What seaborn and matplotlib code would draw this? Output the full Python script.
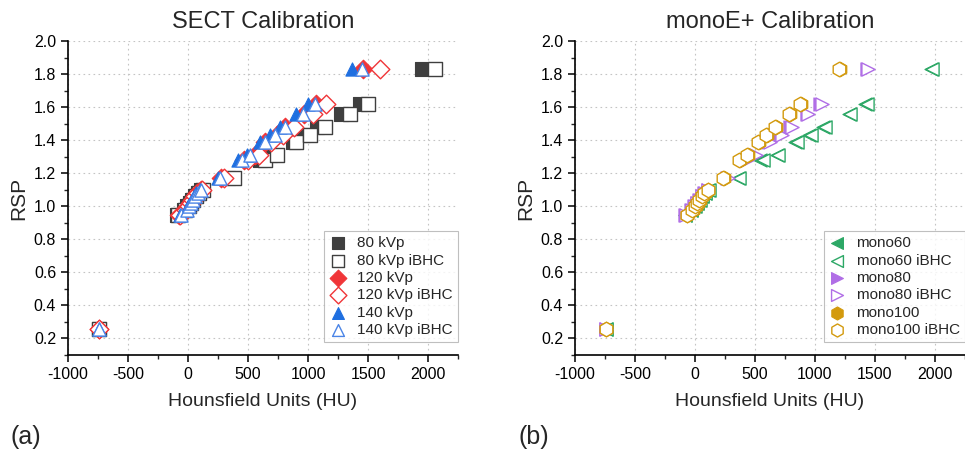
import numpy as np
import pandas as pd
import matplotlib
matplotlib.use("Agg")
import matplotlib.pyplot as plt
from matplotlib.ticker import MultipleLocator
import seaborn as sns

# ---------------- data ----------------
rsp = [0.26, 0.95, 0.98, 1.00, 1.02, 1.04, 1.06, 1.08, 1.10,
       1.17, 1.28, 1.31, 1.39, 1.43, 1.48, 1.56, 1.62, 1.83]

sect_labels = ["80 kVp", "80 kVp iBHC", "120 kVp", "120 kVp iBHC", "140 kVp", "140 kVp iBHC"]
hu_80 = [-745, -95, -35, -5, 15, 35, 55, 80, 110, 335, 597, 681, 875, 958, 1075, 1278, 1432, 1953]
hu_80_ibhc = [-740, -85, -25, 5, 25, 45, 65, 95, 125, 383, 645, 742, 903, 1019, 1139, 1347, 1500, 2056]
hu_120 = [-745, -75, -20, 0, 20, 35, 55, 75, 105, 275, 470, 560, 640, 740, 806, 964, 1070, 1458]
hu_120_ibhc = [-740, -70, -15, 5, 25, 45, 60, 85, 115, 300, 500, 590, 690, 792, 881, 1042, 1153, 1597]
hu_140 = [-745, -65, -15, 0, 20, 35, 50, 70, 100, 250, 417, 490, 597, 681, 764, 903, 1003, 1370]
hu_140_ibhc = [-740, -60, -10, 5, 25, 40, 55, 80, 110, 265, 450, 520, 644, 722, 811, 958, 1058, 1447]

mono_labels = ["mono60", "mono60 iBHC", "mono80", "mono80 iBHC", "mono100", "mono100 iBHC"]
hu_m60 = [-745, -85, -35, -5, 15, 35, 55, 80, 110, 355, 545, 680, 832, 952, 1070, 1280, 1420, 1965]
hu_m60_ibhc = [-740, -80, -30, 0, 20, 40, 60, 85, 115, 367, 564, 694, 847, 967, 1083, 1292, 1431, 1972]
hu_m80 = [-745, -80, -30, -5, 15, 35, 55, 75, 105, 270, 420, 498, 612, 710, 795, 932, 1045, 1435]
hu_m80_ibhc = [-740, -75, -25, 0, 20, 40, 60, 80, 110, 278, 431, 508, 625, 722, 806, 944, 1056, 1444]
hu_m100 = [-738, -65, -20, 5, 25, 40, 60, 80, 110, 245, 375, 440, 537, 600, 676, 795, 884, 1210]
hu_m100_ibhc = [-742, -70, -25, 0, 20, 35, 55, 75, 105, 236, 367, 431, 528, 592, 667, 786, 875, 1200]

x_ticks = [-1000, -500, 0, 500, 1000, 1500, 2000]
y_ticks = [0.2, 0.4, 0.6, 0.8, 1.0, 1.2, 1.4, 1.6, 1.8, 2.0]

sect_series = [hu_80, hu_80_ibhc, hu_120, hu_120_ibhc, hu_140, hu_140_ibhc]
mono_series = [hu_m60, hu_m60_ibhc, hu_m80, hu_m80_ibhc, hu_m100, hu_m100_ibhc]

# ---------------- style ----------------
sns.set_style("white")
FONT = ["Liberation Sans", "DejaVu Sans"]
plt.rcParams["font.family"] = FONT

sect_styles = [
    dict(marker="s", color="#3f3f3f", filled=True, s=90),
    dict(marker="s", color="#3f3f3f", filled=False, s=90),
    dict(marker="D", color="#f03538", filled=True, s=90),
    dict(marker="D", color="#f03538", filled=False, s=90),
    dict(marker="^", color="#1f6fe0", filled=True, s=90),
    dict(marker="^", color="#4a84e6", filled=False, s=90),
]
mono_styles = [
    dict(marker="<", color="#2da866", filled=True, s=90),
    dict(marker="<", color="#2da866", filled=False, s=90),
    dict(marker=">", color="#b06ee6", filled=True, s=90),
    dict(marker=">", color="#b06ee6", filled=False, s=90),
    dict(marker="h", color="#d39a0e", filled=True, s=110),
    dict(marker="h", color="#d39a0e", filled=False, s=110),
]


def build_df(labels, series):
    rows = []
    for lab, hu in zip(labels, series):
        for h, r in zip(hu, rsp):
            rows.append({"series": lab, "HU": h, "RSP": r})
    return pd.DataFrame(rows)


fig = plt.figure(figsize=(9.65, 4.53), dpi=100)
ax1 = fig.add_axes([68 / 965, 98 / 453, 390 / 965, 314 / 453])
ax2 = fig.add_axes([575 / 965, 98 / 453, 390 / 965, 314 / 453])


def draw(ax, labels, series, styles, title):
    df = build_df(labels, series)
    for lab, st in zip(labels, styles):
        sub = df[df["series"] == lab]
        if st["filled"]:
            sns.scatterplot(data=sub, x="HU", y="RSP", ax=ax, marker=st["marker"],
                            s=st["s"], color=st["color"], edgecolor=st["color"],
                            linewidth=0.8, label=lab, zorder=3)
        else:
            sns.scatterplot(data=sub, x="HU", y="RSP", ax=ax, marker=st["marker"],
                            s=st["s"], color=st["color"], facecolors="white",
                            edgecolor=st["color"], linewidth=1.0, label=lab, zorder=3)
    ax.set_xlim(-1000, 2250)
    ax.set_ylim(0.1, 2.0)
    ax.set_xticks(x_ticks)
    ax.set_xticklabels([str(t) for t in x_ticks])
    ax.set_yticks(y_ticks)
    ax.set_yticklabels([f"{t:.1f}" for t in y_ticks])
    ax.xaxis.set_minor_locator(MultipleLocator(250))
    ax.yaxis.set_minor_locator(MultipleLocator(0.1))
    ax.tick_params(which="major", direction="out", length=5, width=1.1, labelsize=11.5,
                   bottom=True, left=True, colors="black")
    ax.tick_params(which="minor", direction="out", length=3, width=1.0, bottom=True, left=True)
    ax.grid(True, which="major", linestyle=(0, (1.5, 3)), color="#c4c4c4", linewidth=0.8)
    ax.set_axisbelow(True)
    for side in ["top", "right"]:
        ax.spines[side].set_visible(False)
    for side in ["left", "bottom"]:
        ax.spines[side].set_color("black")
        ax.spines[side].set_linewidth(1.2)
    ax.set_xlabel("Hounsfield Units (HU)", fontsize=14, labelpad=8)
    ax.set_ylabel("RSP", fontsize=15, labelpad=4)
    ax.set_title(title, fontsize=17, pad=9)
    leg = ax.legend(loc="lower right", bbox_to_anchor=(1.0, 0.04), borderaxespad=0,
                    fontsize=11, frameon=True, fancybox=False, edgecolor="#b0b0b0",
                    handletextpad=0.7, labelspacing=0.22, borderpad=0.35, handlelength=1.1,
                    markerscale=0.9)
    leg.get_frame().set_linewidth(0.8)


draw(ax1, sect_labels, sect_series, sect_styles, "SECT Calibration")
draw(ax2, mono_labels, mono_series, mono_styles, "monoE+ Calibration")

fig.text(10 / 965, 1 - 437 / 453, "(a)", fontsize=18, va="center", ha="left")
fig.text(518 / 965, 1 - 437 / 453, "(b)", fontsize=18, va="center", ha="left")

fig.savefig("out.png", dpi=100)
